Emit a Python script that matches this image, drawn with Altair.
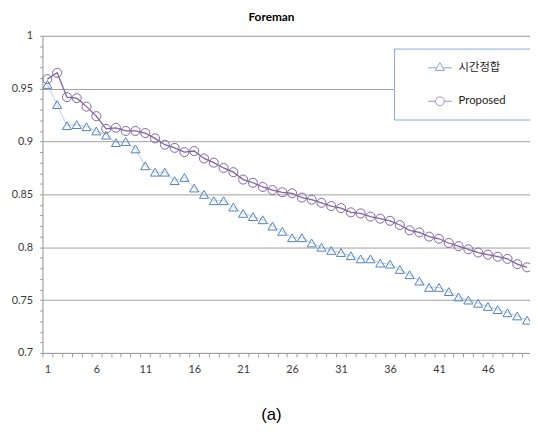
import altair as alt
import pandas as pd

# ---------------- data ----------------
frames = list(range(1, 51))
series_names = ["시간정합", "Proposed"]
time_match = [0.954, 0.935, 0.915, 0.916, 0.914, 0.910, 0.906, 0.899, 0.900, 0.893,
              0.877, 0.871, 0.871, 0.863, 0.866, 0.856, 0.850, 0.844, 0.844, 0.838,
              0.832, 0.829, 0.826, 0.820, 0.815, 0.809, 0.809, 0.804, 0.800, 0.797,
              0.795, 0.792, 0.789, 0.789, 0.785, 0.784, 0.779, 0.774, 0.768, 0.762,
              0.762, 0.758, 0.753, 0.750, 0.747, 0.744, 0.741, 0.738, 0.735, 0.731]
proposed = [0.959, 0.965, 0.942, 0.941, 0.933, 0.924, 0.912, 0.913, 0.910, 0.910,
            0.908, 0.903, 0.897, 0.894, 0.890, 0.891, 0.884, 0.880, 0.875, 0.871,
            0.864, 0.861, 0.857, 0.854, 0.852, 0.851, 0.847, 0.845, 0.842, 0.839,
            0.837, 0.833, 0.832, 0.829, 0.827, 0.825, 0.821, 0.816, 0.814, 0.810,
            0.808, 0.804, 0.801, 0.798, 0.795, 0.793, 0.791, 0.789, 0.784, 0.781]
x_labels = [1, 6, 11, 16, 21, 26, 31, 36, 41, 46]
y_minor_ticks = [round(0.70 + 0.01 * i, 2) for i in range(31)]

df = pd.DataFrame({
    "frame": frames * 2,
    "value": time_match + proposed,
    "series": [series_names[0]] * len(frames) + [series_names[1]] * len(frames),
})

# ---------------- style ----------------
FONT = "Lato, 'Noto Sans CJK KR', sans-serif"
marker_colors = ["#4f81bd", "#8064a2"]
line_colors = ["#a9c1e5", "#8064a2"]
line_widths = [0.8, 1.3]
AXIS_GRAY = "#a0a0a0"
LABEL_COLOR = "#3a3a3a"

# legend symbols: line sample + marker (units of 12px, drawn 2.25 units right of the
# symbol origin); the bare move-to points only widen the legend frame
legend_paths = [
    "M0,-0.75M9.25,0.75M1.25,0H1.95M2.55,0H3.25M2.25,-0.447L2.6375,0.224H1.8625Z",
    "M0,-0.75M9.25,0.75M1.25,0H1.875M2.625,0H3.25M2.625,0A0.375,0.375 0 1,1 1.875,0A0.375,0.375 0 1,1 2.625,0",
]

x_enc = alt.X(
    "frame:Q",
    scale=alt.Scale(domain=[0.5, 50.3], nice=False, zero=False),
    axis=alt.Axis(
        values=frames,
        tickOffset=-5,
        labelOffset=5,
        labelExpr="indexof(" + str(x_labels) + ", datum.value) >= 0 ? datum.label : ''",
        labelOverlap=False,
        labelFlush=False,
        grid=False,
        domainColor=AXIS_GRAY,
        tickColor=AXIS_GRAY,
        tickSize=4,
        labelFont=FONT,
        labelFontSize=11,
        labelColor=LABEL_COLOR,
        labelPadding=7,
        title="(a)",
        titleFont="Liberation Sans, Arial, sans-serif",
        titleFontSize=17,
        titleFontWeight="normal",
        titleColor="#000000",
        titleX=232,
        titleY=63,
        titleAlign="center",
        titleBaseline="middle",
    ),
)

y_enc = alt.Y(
    "value:Q",
    scale=alt.Scale(domain=[0.7, 1.0], nice=False, zero=False),
    axis=alt.Axis(
        values=y_minor_ticks,
        format="~g",
        labelExpr="round(datum.value * 100) % 5 == 0 ? datum.label : ''",
        labelOverlap=False,
        labelFlush=False,
        grid=True,
        gridColor=AXIS_GRAY,
        gridOpacity={"condition": {"test": "round(datum.value * 100) % 5 == 0", "value": 1}, "value": 0},
        domainColor=AXIS_GRAY,
        tickColor=AXIS_GRAY,
        tickSize=3,
        labelFont=FONT,
        labelFontSize=11,
        labelColor=LABEL_COLOR,
        labelPadding=7,
        title=None,
    ),
)

base = alt.Chart(df)

lines = base.mark_line().encode(
    x=x_enc,
    y=y_enc,
    stroke=alt.Stroke("series:N", scale=alt.Scale(domain=series_names, range=line_colors), legend=None),
    strokeWidth=alt.StrokeWidth("series:N", scale=alt.Scale(domain=series_names, range=line_widths), legend=None),
    detail="series:N",
)

points = base.mark_point(filled=False, strokeWidth=1, size=84, opacity=1).encode(
    x=x_enc,
    y=y_enc,
    color=alt.Color("series:N", scale=alt.Scale(domain=series_names, range=marker_colors), legend=None),
    shape=alt.Shape("series:N", scale=alt.Scale(domain=series_names, range=["triangle-up", "circle"]), legend=None),
)

legend_spec = dict(
    orient="none",
    legendX=357,
    legendY=13,
    title=None,
    padding=7,
    strokeColor="#86a8d8",
    fillColor="#ffffff",
    symbolSize=576,
    symbolStrokeWidth=1,
    symbolFillColor="transparent",
    labelOffset=33.5,
    labelFont=FONT,
    labelFontSize=11.5,
    labelColor="#222222",
    rowPadding=10,
)

legend_layer = base.mark_point(filled=False, strokeWidth=1).transform_filter("false").encode(
    x=x_enc,
    y=y_enc,
    color=alt.Color("series:N", scale=alt.Scale(domain=series_names, range=marker_colors),
                    legend=alt.Legend(**legend_spec)),
    shape=alt.Shape("series:N", scale=alt.Scale(domain=series_names, range=legend_paths),
                    legend=alt.Legend(**legend_spec)),
)

chart = (
    alt.layer(lines, points, legend_layer)
    .resolve_scale(color="independent", shape="independent")
    .properties(
        width=495,
        height=322,
        title=alt.TitleParams(
            text="Foreman",
            font=FONT,
            fontSize=12,
            fontWeight="bold",
            color="#000000",
            anchor="middle",
            frame="group",
            baseline="alphabetic",
            offset=0,
            dx=-15,
            dy=2.5,
        ),
        autosize=alt.AutoSizeParams(type="none"),
        padding={"left": 35, "top": 25, "right": 0, "bottom": 75},
    )
    .configure_view(stroke=None)
    .configure(background="#ffffff")
)

chart.save("out.html", embed_options={"renderer": "svg", "actions": False})
